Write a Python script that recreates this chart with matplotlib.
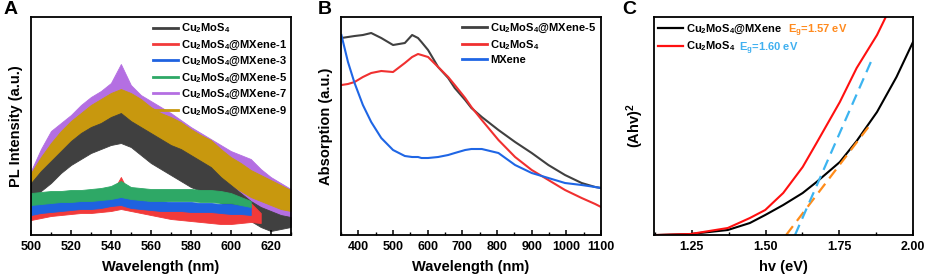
import matplotlib
matplotlib.use("Agg")
import matplotlib.pyplot as plt
from matplotlib.lines import Line2D
from matplotlib.ticker import MultipleLocator

plt.rcParams['font.family'] = ['Liberation Sans', 'DejaVu Sans']
plt.rcParams['font.weight'] = 'bold'
plt.rcParams['mathtext.fontset'] = 'custom'
plt.rcParams['mathtext.rm'] = 'Liberation Sans:bold'
plt.rcParams['mathtext.it'] = 'Liberation Sans:bold'
plt.rcParams['mathtext.bf'] = 'Liberation Sans:bold'
plt.rcParams['mathtext.default'] = 'rm'

# ---- panel A: PL spectra (noise band read as upper / lower envelope) ----
wl_a = [500, 505, 510, 515, 520, 525, 530, 535, 540, 545, 550, 555, 560, 565,
        570, 575, 580, 585, 590, 595, 600, 605, 610, 615, 620, 625, 630]

cms_hi = [52, 64, 74, 84, 94, 102, 108, 112, 118, 122, 114, 108, 102, 96,
          90, 86, 80, 74, 68, 58, 50, 42, 34, 28, 24, 20, 18]
cms_lo = [36, 44, 52, 62, 70, 76, 82, 86, 90, 92, 88, 80, 72, 66,
          60, 54, 48, 44, 38, 32, 26, 20, 14, 8, 4, 6, 8]

mx1_hi = [33, 33, 34, 35, 35, 36, 36, 37, 40, 58, 38, 35, 32, 30,
          28, 27, 26, 25, 25, 24, 24, 25, 32, 22]
mx1_lo = [15, 17, 19, 20, 21, 22, 22, 23, 24, 26, 24, 22, 20, 18,
          16, 15, 14, 13, 12, 11, 11, 12, 13, 12]

mx3_hi = [33, 34, 34, 35, 35, 36, 36, 37, 39, 42, 36, 35, 34, 34,
          33, 33, 33, 32, 32, 31, 31, 30, 30]
mx3_lo = [20, 22, 23, 24, 25, 26, 26, 27, 29, 30, 27, 26, 25, 24,
          24, 24, 23, 23, 23, 22, 21, 21, 20]

mx5_hi = [42, 43, 44, 44, 45, 45, 46, 47, 49, 54, 48, 47, 46, 46,
          46, 46, 46, 45, 45, 44, 42, 38, 34]
mx5_lo = [30, 31, 32, 33, 33, 34, 34, 35, 36, 38, 36, 35, 34, 34,
          34, 34, 34, 33, 33, 32, 32, 30, 28]

mx7_hi = [64, 86, 104, 112, 120, 130, 138, 144, 152, 171, 150, 140, 134, 128,
          122, 115, 108, 102, 96, 90, 84, 80, 76, 66, 58, 52, 46]
mx7_lo = [36, 50, 62, 74, 84, 92, 98, 104, 108, 110, 106, 100, 94, 88,
          82, 76, 70, 64, 58, 50, 44, 36, 28, 20, 12, 8, 12]

mx9_hi = [62, 78, 92, 104, 114, 122, 130, 136, 142, 146, 142, 136, 128, 122,
          118, 113, 106, 100, 95, 86, 78, 72, 65, 60, 55, 50, 45]
mx9_lo = [40, 55, 66, 78, 88, 96, 102, 106, 110, 112, 108, 104, 98, 92,
          86, 80, 74, 68, 62, 56, 50, 44, 38, 34, 30, 26, 24]

labels_a = ['Cu$_2$MoS$_4$', 'Cu$_2$MoS$_4$@MXene-1', 'Cu$_2$MoS$_4$@MXene-3',
            'Cu$_2$MoS$_4$@MXene-5', 'Cu$_2$MoS$_4$@MXene-7', 'Cu$_2$MoS$_4$@MXene-9']
colors_a = ['#404040', '#f23a3a', '#1f62e0', '#2ea866', '#b46fe2', '#c8980e']

# ---- panel B: absorption ----
wl_b = [351, 370, 389, 413, 437, 466, 500, 534, 555, 572, 582, 601, 630, 659, 678,
        708, 726, 756, 804, 852, 900, 948, 996, 1044, 1083, 1100]
abs_mx5 = [197, 198, 199, 200, 202, 197, 190, 192, 200, 197, 193, 185, 168, 157, 147,
           135, 127, 118, 105, 93, 82, 70, 60, 52, 48, 47]
abs_cms = [150, 151, 153, 158, 162, 164, 163, 172, 178, 181, 180, 178, 168, 158, 150,
           137, 128, 115, 95, 78, 65, 55, 45, 37, 31, 28]
abs_mx = [200, 173, 152, 130, 113, 97, 85, 79, 78, 78, 77, 77, 78, 80, 82,
          85, 86, 86, 82, 70, 62, 57, 52, 50, 48, 47]
labels_b = ['Cu$_2$MoS$_4$@MXene-5', 'Cu$_2$MoS$_4$', 'MXene']
colors_b = ['#404040', '#f03030', '#1f66e5']

# ---- panel C: Tauc plot ----
hv = [1.131, 1.246, 1.372, 1.447, 1.499, 1.560, 1.626, 1.673, 1.752, 1.809, 1.878, 1.944, 2.0]
tauc_mx = [0, 1, 5, 12, 20, 30, 42, 53, 73, 94, 123, 158, 193]
tauc_cms = [0, 1, 7, 17, 25, 42, 68, 92, 133, 167, 200, 240, 280]
fit_mx_x = [1.57, 1.854]
fit_mx_y = [0, 110]
fit_cms_x = [1.60, 1.863]
fit_cms_y = [0, 177]


def style_axes(ax):
    for s in ax.spines.values():
        s.set_linewidth(1.3)
    ax.tick_params(axis='x', which='major', direction='in', length=3.5, width=1.1,
                   labelsize=9, pad=4)
    ax.tick_params(axis='x', which='minor', direction='in', length=2, width=1.0)
    ax.set_yticks([])
    for t in ax.get_xticklabels():
        t.set_fontweight('bold')


fig = plt.figure(figsize=(9.27, 2.77), dpi=100)

# A
ax = fig.add_axes([0.0334, 0.1516, 0.2802, 0.787])
his = [cms_hi, mx1_hi, mx3_hi, mx5_hi, mx7_hi, mx9_hi]
los = [cms_lo, mx1_lo, mx3_lo, mx5_lo, mx7_lo, mx9_lo]
for i in [4, 5, 0, 1, 2, 3]:
    n = len(his[i])
    ax.fill_between(wl_a[:n], los[i], his[i], color=colors_a[i], lw=0.6,
                    edgecolor=colors_a[i])
handles = [Line2D([], [], color=c, lw=2) for c in colors_a]
ax.legend(handles, labels_a, loc='upper right', frameon=False, fontsize=8,
          handlelength=2.3, handletextpad=0.3, labelspacing=0.3,
          borderaxespad=0.0, bbox_to_anchor=(1.005, 1.0))
ax.set_xlim(500, 630)
ax.set_ylim(0, 218)
ax.xaxis.set_major_locator(MultipleLocator(20))
ax.xaxis.set_minor_locator(MultipleLocator(10))
style_axes(ax)
ax.set_xlabel('Wavelength (nm)', fontsize=10.5, fontweight='bold', labelpad=5)
ax.set_ylabel('PL Intensity (a.u.)', fontsize=10.5, fontweight='bold', labelpad=6)

# B
ax = fig.add_axes([0.3679, 0.1516, 0.2805, 0.787])
for y, c in zip([abs_mx5, abs_cms, abs_mx], colors_b):
    ax.plot(wl_b, y, color=c, lw=1.5)
handles = [Line2D([], [], color=c, lw=2) for c in colors_b]
ax.legend(handles, labels_b, loc='upper right', frameon=False, fontsize=8,
          handlelength=2.3, handletextpad=0.3, labelspacing=0.3,
          borderaxespad=0.0, bbox_to_anchor=(1.0, 1.0))
ax.set_xlim(350, 1100)
ax.set_ylim(0, 218)
ax.xaxis.set_major_locator(MultipleLocator(100))
ax.xaxis.set_minor_locator(MultipleLocator(50))
style_axes(ax)
ax.set_xlabel('Wavelength (nm)', fontsize=10.5, fontweight='bold', labelpad=5)
ax.set_ylabel('Absorption (a.u.)', fontsize=10.5, fontweight='bold', labelpad=6)

# C
ax = fig.add_axes([0.7055, 0.1516, 0.2794, 0.787])
ax.plot(hv, tauc_mx, color='black', lw=1.5)
ax.plot(hv, tauc_cms, color='#ff1010', lw=1.5)
ax.plot(fit_mx_x, fit_mx_y, color='#ff8c1a', lw=1.6, ls=(0, (5, 3)))
ax.plot(fit_cms_x, fit_cms_y, color='#3cb4f0', lw=1.6, ls=(0, (5, 3)))
handles = [Line2D([], [], color='black', lw=1.6), Line2D([], [], color='#ff1010', lw=1.6)]
ax.legend(handles, ['Cu$_2$MoS$_4$@MXene', 'Cu$_2$MoS$_4$'], loc='upper left',
          frameon=False, fontsize=8, handlelength=2.2, handletextpad=0.3,
          labelspacing=0.35, borderaxespad=0.0, bbox_to_anchor=(0.0, 0.995))
ax.text(0.517, 0.927, 'E$_g$=1.57 eV', transform=ax.transAxes, color='#ff8a1e',
        fontsize=8, fontweight='bold', va='baseline')
ax.text(0.33, 0.845, 'E$_g$=1.60 eV', transform=ax.transAxes, color='#40b0f0',
        fontsize=8, fontweight='bold', va='baseline')
ax.set_xlim(1.122, 2.0)
ax.set_ylim(0, 218)
ax.xaxis.set_major_locator(MultipleLocator(0.25))
ax.xaxis.set_minor_locator(MultipleLocator(0.125))
ax.xaxis.set_major_formatter(plt.FormatStrFormatter('%.2f'))
style_axes(ax)
ax.set_xlabel('hv (eV)', fontsize=10.5, fontweight='bold', labelpad=5)
ax.set_ylabel('(Ahv)$^2$', fontsize=10.5, fontweight='bold', labelpad=6)

for x, s in [(0.004, 'A'), (0.343, 'B'), (0.671, 'C')]:
    fig.text(x, 0.995, s, fontsize=14, fontweight='bold', va='top', ha='left')

fig.savefig('out.png', dpi=100)
